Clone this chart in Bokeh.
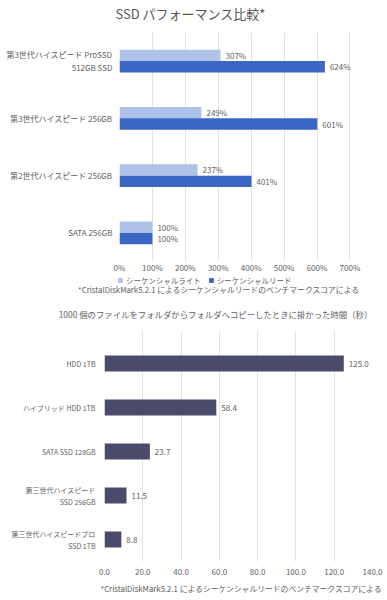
from bokeh.plotting import figure
from bokeh.models import (Range1d, FactorRange, LabelSet, Label, Legend, LegendItem, Title,
                          FixedTicker, PrintfTickFormatter, ColumnDataSource)
from bokeh.transform import dodge
from bokeh.embed import file_html
from bokeh.resources import INLINE
from bokeh.core.properties import value

FONT = "Noto Sans CJK JP"
TEXT = "#5e5e5e"
LIGHT = "#aec3e7"
DARK = "#3a66c4"
SLATE = "#4a4a6b"
GRID = "#e2e2e2"

# ---------------- chart 1 data ----------------
chart1_title = "SSD パフォーマンス比較*"
ssd_models = ["第3世代ハイスピード ProSSD\n512GB SSD", "第3世代ハイスピード 256GB",
              "第2世代ハイスピード 256GB", "SATA 256GB"]
seq_write = [307, 249, 237, 100]
seq_read = [624, 601, 401, 100]
series_names = ["シーケンシャルライト", "シーケンシャルリード"]
pct_ticks = [0, 100, 200, 300, 400, 500, 600, 700]
footnote = "*CristalDiskMark5.2.1 によるシーケンシャルリードのベンチマークスコアによる"

# ---------------- chart 2 data ----------------
chart2_title = "1000 個のファイルをフォルダからフォルダへコピーしたときに掛かった時間（秒）"
drives = ["HDD 1TB", "ハイブリッド HDD 1TB", "SATA SSD 128GB",
          "第三世代ハイスピード\nSSD 256GB", "第三世代ハイスピードプロ\nSSD 1TB"]
copy_seconds = [125.0, 58.4, 23.7, 11.5, 8.8]
sec_ticks = [0, 20, 40, 60, 80, 100, 120, 140]


def strip(height, **kw):
    """A bare figure (no axes) used for text rows between the charts."""
    s = figure(width=387, height=height, output_backend="svg", toolbar_location=None,
               x_axis_type=None, y_axis_type=None, min_border=0, **kw)
    s.outline_line_color = None
    s.title.visible = False
    return s


def text_label(x, y, text, size, color=TEXT):
    return Label(x=x, y=y, x_units="screen", y_units="screen", text=text,
                 text_align="center", text_baseline="middle", text_font=FONT,
                 text_font_size=size, text_color=color)


def style_axes(p, ylabel_size):
    p.outline_line_color = None
    p.title.visible = False
    for ax in (p.xaxis[0], p.yaxis[0]):
        ax.axis_line_color = None
        ax.major_tick_line_color = None
        ax.minor_tick_line_color = None
        ax.major_tick_out = 0
        ax.major_tick_in = 0
        ax.minor_tick_out = 0
        ax.major_label_text_font = FONT
        ax.major_label_text_font_size = "8px"
        ax.major_label_text_color = TEXT
    p.yaxis[0].major_label_text_font_size = ylabel_size
    p.ygrid.grid_line_color = None
    p.xgrid.grid_line_color = GRID
    p.xgrid.grid_line_width = 1


# ================= chart 1 =================
h1 = strip(32)
h1.add_layout(text_label(190, 19, chart1_title, "13px", "#555555"))

p1 = figure(width=387, height=243, output_backend="svg", toolbar_location=None,
            x_range=Range1d(pct_ticks[0], 720),
            y_range=FactorRange(factors=list(reversed(ssd_models))),
            min_border_left=119, min_border_right=31, min_border_top=0, min_border_bottom=14)
style_axes(p1, "8px")
p1.xaxis.ticker = FixedTicker(ticks=pct_ticks)
p1.xaxis.formatter = PrintfTickFormatter(format="%d%%")
p1.xaxis.major_label_standoff = 0
p1.yaxis.major_label_standoff = 7

src1 = ColumnDataSource(dict(model=ssd_models, write=seq_write, read=seq_read,
                             write_lbl=[f"{v}%" for v in seq_write],
                             read_lbl=[f"{v}%" for v in seq_read]))
cols = (("write", 0.1, LIGHT), ("read", -0.1, DARK))
for col, off, color in cols:
    p1.hbar(y=dodge("model", off, range=p1.y_range), right=col, height=0.2,
            fill_color=color, line_color=None, source=src1)
    p1.add_layout(LabelSet(x=col, y=dodge("model", off, range=p1.y_range), text=col + "_lbl",
                           source=src1, x_offset=5, text_baseline="middle",
                           text_font=value(FONT), text_font_size=value("8px"),
                           text_color=value(TEXT)))

# ---- legend + footnote row of chart 1 (legend keys lie outside this strip's view) ----
pl = strip(25, x_range=Range1d(-2, -1), y_range=FactorRange(factors=list(reversed(ssd_models))))
keys = [pl.hbar(y=dodge("model", off, range=pl.y_range), right=col, height=0.2,
                fill_color=color, line_color=None, source=src1) for col, off, color in cols]
legend = Legend(items=[LegendItem(label=n, renderers=[k]) for n, k in zip(series_names, keys)],
                orientation="horizontal", location=(117, 14.5), padding=0, margin=0,
                spacing=7, glyph_width=6, glyph_height=6, label_height=10, label_standoff=3,
                label_text_font=FONT, label_text_font_size="7.5px", label_text_color=TEXT,
                border_line_color=None, background_fill_alpha=0)
pl.add_layout(legend)
pl.add_layout(text_label(218.5, 11.5, footnote, "7.8px"))

# ================= chart 2 =================
h2 = strip(30)
h2.add_layout(text_label(215, 17, chart2_title, "8.4px"))

drive_pos = list(range(len(drives)))
p2 = figure(width=387, height=270, output_backend="svg", toolbar_location=None,
            x_range=Range1d(sec_ticks[0], sec_ticks[-1]),
            y_range=Range1d(len(drives) - 0.5, -0.75),
            min_border_left=104, min_border_right=15, min_border_top=0, min_border_bottom=39)
style_axes(p2, "7px")
p2.xaxis.ticker = FixedTicker(ticks=sec_ticks)
p2.xaxis.formatter = PrintfTickFormatter(format="%.1f")
p2.xaxis.major_label_standoff = 7
p2.yaxis.ticker = FixedTicker(ticks=drive_pos)
p2.yaxis.major_label_overrides = {i: d for i, d in zip(drive_pos, drives)}
p2.yaxis.major_label_standoff = 9

src2 = ColumnDataSource(dict(pos=drive_pos, secs=copy_seconds,
                             lbl=[f"{v:.1f}" for v in copy_seconds]))
p2.hbar(y="pos", right="secs", height=0.36, fill_color=SLATE, line_color=None, source=src2)
p2.add_layout(LabelSet(x="secs", y="pos", text="lbl", source=src2, x_offset=5,
                       text_baseline="middle", text_font=value(FONT),
                       text_font_size=value("8px"), text_color=value(TEXT)))
p2.add_layout(Title(text=footnote, align="left", offset=-4, standoff=6, vertical_align="bottom",
                    text_font=FONT, text_font_size="7.8px", text_font_style="normal",
                    text_color=TEXT), "below")

open("out.html", "w").write(file_html([h1, p1, pl, h2, p2], INLINE))
